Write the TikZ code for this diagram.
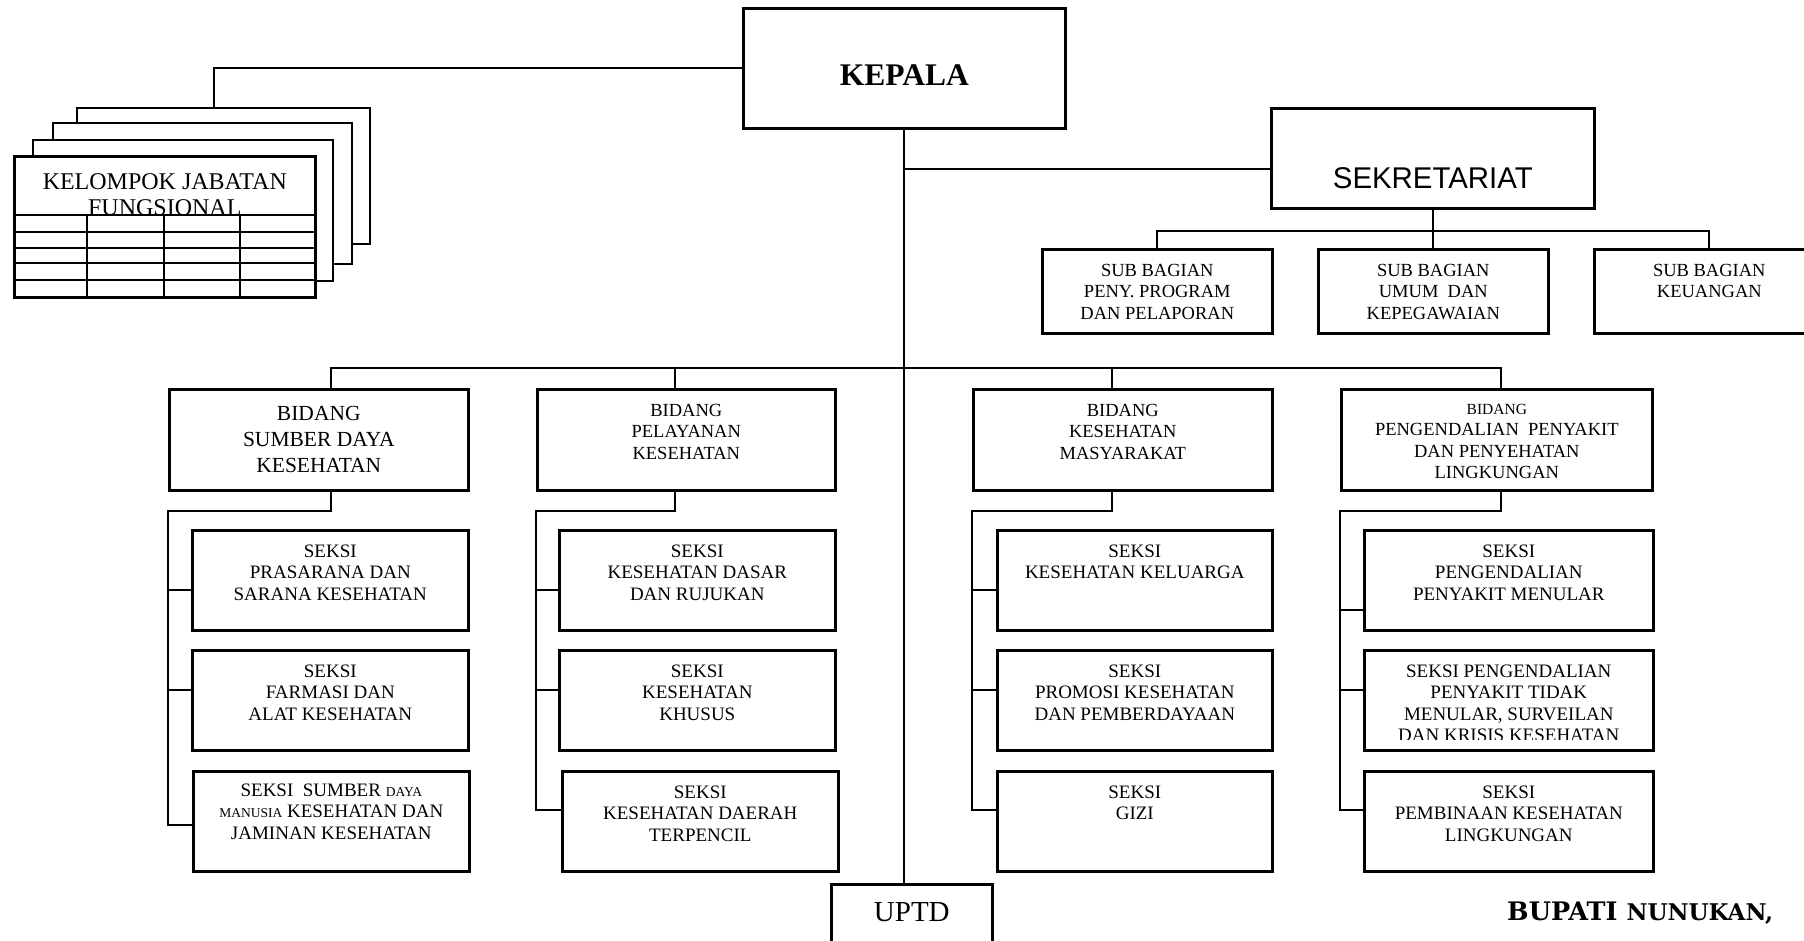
\documentclass[tikz,border=0pt]{standalone}
\usepackage{fontspec}
\setmainfont{Liberation Serif}
\newfontfamily\headsans[FakeStretch=0.98]{Liberation Sans}
\newfontfamily\signserif{DejaVu Serif}

% box with its caption hung a fixed distance below the top edge
% #1 name, #2 top-left corner, #3 width, #4 height, #5 caption drop, #6 caption style, #7 caption
\newcommand\orgunit[7]{%
  \node[box, minimum width=#3pt, minimum height=#4pt, anchor=north west] (#1) at #2 {};
  \node[#6, anchor=north] (#1-t) at ([yshift=-#5pt]#1.north) {#7};}
\newcommand\smallcapsize{\fontsize{13.5}{21.5}\selectfont}

\begin{document}
\begin{tikzpicture}[x=1pt, y=-1pt,
  box/.style={draw, line width=2.6pt, fill=white, inner sep=0pt},
  stack/.style={draw, line width=2.4pt, fill=white, inner sep=0pt},
  link/.style={line width=2pt},
  txt/.style={inner sep=0pt, align=center, font=\fontsize{19}{21.5}\selectfont},
  subtxt/.style={inner sep=0pt, align=center, font=\fontsize{18.5}{21.5}\selectfont},
  bigtxt/.style={inner sep=0pt, align=center, font=\fontsize{21.5}{26}\selectfont},
  kjtxt/.style={inner sep=0pt, align=center, font=\fontsize{24}{26}\selectfont},
  headtxt/.style={inner sep=0pt, align=center, font=\bfseries\fontsize{31.5}{36}\selectfont},
  sektxt/.style={inner sep=0pt, align=center, font=\headsans\fontsize{30}{34}\selectfont},
  uptdtxt/.style={inner sep=0pt, align=center, font=\fontsize{29}{33}\selectfont}]

\clip (0,0) rectangle (1804,941);
\fill[white] (0,0) rectangle (1804,941);

% head of office
\orgunit{kepala}{(742,7)}{322}{120}{57.4}{headtxt}{KEPALA}

% functional group: a stack of sheets, the front one ruled as a table
\node[stack, minimum width=293pt, minimum height=136pt, anchor=north west] (kj4) at (76,107) {};
\node[stack, minimum width=299pt, minimum height=141pt, anchor=north west] (kj3) at (52,122) {};
\node[stack, minimum width=300pt, minimum height=141pt, anchor=north west] (kj2) at (32,139) {};
\orgunit{kj1}{(13,155)}{301}{141}{18.1}{kjtxt}{KELOMPOK JABATAN\\FUNGSIONAL}
\foreach \ry in {215,232,248,263,280}
  \draw[line width=2.4pt] (13,\ry) -- (314,\ry);
\foreach \cx in {87,164,240}
  \draw[line width=2.2pt] (\cx,215) -- (\cx,296);

% secretariat and its sub-sections
\orgunit{sek}{(1270,107)}{323}{100}{60.3}{sektxt}{SEKRETARIAT}
\orgunit{sb1}{(1041,248)}{230}{84}{15.9}{subtxt}{SUB BAGIAN\\PENY. PROGRAM\\DAN PELAPORAN}
\orgunit{sb2}{(1317,248)}{230}{84}{15.9}{subtxt}{SUB BAGIAN\\UMUM\ \ DAN\\KEPEGAWAIAN}
\orgunit{sb3}{(1593,248)}{230}{84}{15.9}{subtxt}{SUB BAGIAN\\KEUANGAN}

% divisions
\orgunit{b1}{(168,388)}{299}{101}{17.9}{bigtxt}{BIDANG\\SUMBER DAYA\\KESEHATAN}
\orgunit{b2}{(536,388)}{298}{101}{15.9}{subtxt}{BIDANG\\PELAYANAN\\KESEHATAN}
\orgunit{b3}{(972,388)}{299}{101}{15.9}{subtxt}{BIDANG\\KESEHATAN\\MASYARAKAT}
\orgunit{b4}{(1340,388)}{311}{101}{15.9}{subtxt}{{\fontsize{15.5}{21.5}\selectfont BIDANG}\\PENGENDALIAN\ \ PENYAKIT\\DAN PENYEHATAN\\LINGKUNGAN}

% sections, column 1
\orgunit{s11}{(191,529)}{276}{100}{15.7}{txt}{SEKSI\\PRASARANA DAN\\SARANA KESEHATAN}
\orgunit{s12}{(191,649)}{276}{100}{15.7}{txt}{SEKSI\\FARMASI DAN\\ALAT KESEHATAN}
\orgunit{s13}{(192,770)}{276}{100}{13.7}{txt}{SEKSI\ \ SUMBER {\smallcapsize DAYA}\\{\smallcapsize MANUSIA} KESEHATAN DAN\\JAMINAN KESEHATAN}
% column 2
\orgunit{s21}{(558,529)}{276}{100}{15.7}{txt}{SEKSI\\KESEHATAN DASAR\\DAN RUJUKAN}
\orgunit{s22}{(558,649)}{276}{100}{15.7}{txt}{SEKSI\\KESEHATAN\\KHUSUS}
\orgunit{s23}{(561,770)}{276}{100}{15.7}{txt}{SEKSI\\KESEHATAN DAERAH\\TERPENCIL}
% column 3
\orgunit{s31}{(996,529)}{275}{100}{15.7}{txt}{SEKSI\\KESEHATAN KELUARGA}
\orgunit{s32}{(996,649)}{275}{100}{15.7}{txt}{SEKSI\\PROMOSI KESEHATAN\\DAN PEMBERDAYAAN}
\orgunit{s33}{(996,770)}{275}{100}{15.7}{txt}{SEKSI\\GIZI}
% column 4
\orgunit{s41}{(1363,529)}{289}{100}{15.7}{txt}{SEKSI\\PENGENDALIAN\\PENYAKIT MENULAR}
\node[box, minimum width=289pt, minimum height=100pt, anchor=north west] (s42) at (1363,649) {};
\begin{scope}
  % the fourth line runs past the inner edge of the box and is cut off there
  \clip (s42.north west) rectangle ([yshift=12pt]s42.south east);
  \node[txt, anchor=north] (s42-t) at ([yshift=-15.7pt]s42.north)
    {SEKSI PENGENDALIAN\\PENYAKIT TIDAK\\MENULAR, SURVEILAN\\DAN KRISIS KESEHATAN};
\end{scope}
\orgunit{s43}{(1363,770)}{289}{100}{15.7}{txt}{SEKSI\\PEMBINAAN KESEHATAN\\LINGKUNGAN}

% technical unit
\orgunit{uptd}{(830,883)}{161}{120}{19.4}{uptdtxt}{UPTD}

% signature line
\node[anchor=base west, inner sep=0pt, font=\signserif\bfseries\fontsize{25.5}{30}\selectfont]
  (bupati) at (1507,920) {BUPATI {\fontsize{23}{28}\selectfont NUNUKAN,}};

% ---- connectors ----
\coordinate (kjtap) at (214,107);
\draw[link] (kepala.west) -| (kjtap);
\draw[link] (kepala.south) -- (kepala.south |- uptd.north);

\coordinate (sekin) at ([yshift=-11pt]sek.west);
\draw[link] (kepala.south |- sekin) -- (sekin);

\coordinate (sbbus) at ([yshift=-21pt]sek.south);
\draw[link] (sek.south) -- (sbbus);
\draw[link] (sb1.north) |- (sbbus) -| (sb3.north);
\draw[link] (sb2.north) -- (sb2.north |- sbbus);

\draw[link] ([xshift=12.5pt]b1.north) -- ++(0,-20) -| ([xshift=4.5pt]b4.north);
\draw[link] ([xshift=-11pt]b2.north) -- ++(0,-20);
\draw[link] ([xshift=-10.5pt]b3.north) -- ++(0,-20);

% column 1 spine
\coordinate (t11) at ([yshift=-10pt]s11.west);
\coordinate (t12) at ([yshift=10pt]s12.west);
\coordinate (t13) at ([yshift=-4pt]s13.west);
\draw[link] ([xshift=12.5pt]b1.south) -- ++(0,19) -| (b1.west |- t13) -- (t13);
\draw[link] (b1.west |- t11) -- (t11);
\draw[link] (b1.west |- t12) -- (t12);

% column 2 spine
\coordinate (t21) at ([yshift=-10pt]s21.west);
\coordinate (t22) at ([yshift=10pt]s22.west);
\coordinate (t23) at ([yshift=11pt]s23.west);
\draw[link] ([xshift=-11pt]b2.south) -- ++(0,19) -| (b2.west |- t23) -- (t23);
\draw[link] (b2.west |- t21) -- (t21);
\draw[link] (b2.west |- t22) -- (t22);

% column 3 spine
\coordinate (t31) at ([yshift=-10pt]s31.west);
\coordinate (t32) at ([yshift=10pt]s32.west);
\coordinate (t33) at ([yshift=11pt]s33.west);
\draw[link] ([xshift=-10.5pt]b3.south) -- ++(0,19) -| (b3.west |- t33) -- (t33);
\draw[link] (b3.west |- t31) -- (t31);
\draw[link] (b3.west |- t32) -- (t32);

% column 4 spine
\coordinate (t41) at ([yshift=-30pt]s41.west);
\coordinate (t42) at ([yshift=10pt]s42.west);
\coordinate (t43) at ([yshift=11pt]s43.west);
\draw[link] ([xshift=4.5pt]b4.south) -- ++(0,19) -| (b4.west |- t43) -- (t43);
\draw[link] (b4.west |- t41) -- (t41);
\draw[link] (b4.west |- t42) -- (t42);
\end{tikzpicture}
\end{document}
